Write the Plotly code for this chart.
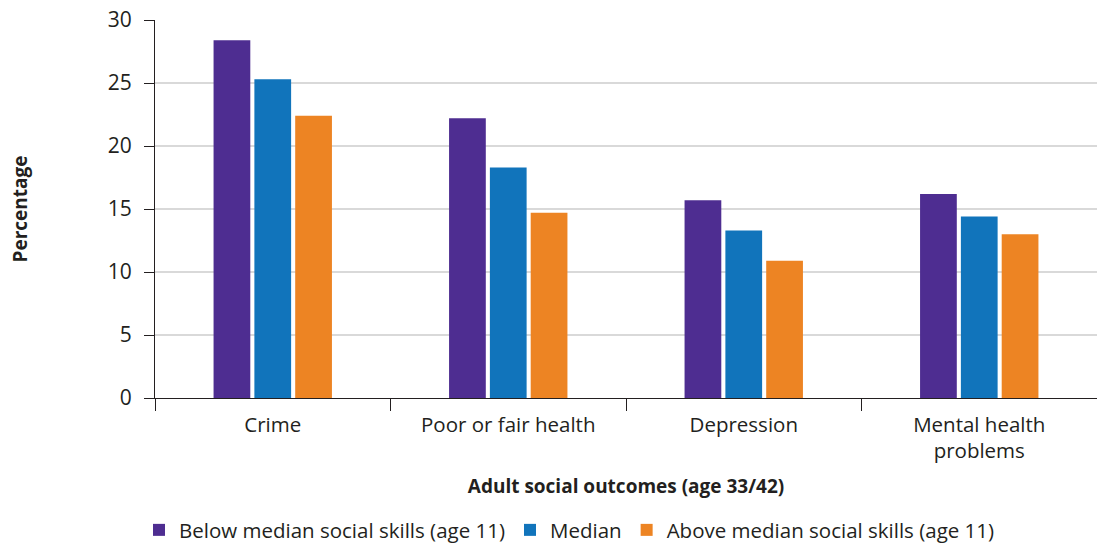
import plotly.graph_objects as go

categories = ["Crime", "Poor or fair health", "Depression", "Mental health<br>problems"]
series_names = [
    "Below median social skills (age 11)",
    "Median",
    "Above median social skills (age 11)",
]
below_median = [28.4, 22.2, 15.7, 16.2]
median = [25.3, 18.3, 13.3, 14.4]
above_median = [22.4, 14.7, 10.9, 13.0]
colors = ["#4e2d91", "#1174bb", "#ed8423"]
y_ticks = [0, 5, 10, 15, 20, 25, 30]

FONT = "Open Sans, Lato, sans-serif"
TEXT = "#231f20"

fig = go.Figure()
for name, vals, col in zip(series_names, [below_median, median, above_median], colors):
    fig.add_trace(go.Bar(x=categories, y=vals, name=name, marker_color=col,
                         marker_line_width=0))

fig.update_layout(
    width=1097, height=547,
    margin=dict(l=155, r=0, t=20, b=149),
    plot_bgcolor="white", paper_bgcolor="white",
    barmode="group", bargap=0.48, bargroupgap=0.1,
    font=dict(family=FONT, size=20, color=TEXT),
    showlegend=True,
    legend=dict(orientation="h", x=0.44, xanchor="center",
                yref="container", y=0.031, yanchor="middle",
                font=dict(size=20.5, color=TEXT), itemwidth=30, traceorder="normal",
                tracegroupgap=0, itemclick=False),
)
fig.update_xaxes(
    automargin=False,
    showline=True, linecolor="#231f20", linewidth=1.3,
    ticks="outside", tickson="boundaries", ticklen=12, tickcolor="#231f20", tickwidth=1.3,
    tickfont=dict(size=20.5, color=TEXT), ticklabelstandoff=8,
    title=dict(text="<b>Adult social outcomes (age 33/42)</b>", font=dict(size=19, color=TEXT),
               standoff=16),
)
fig.update_yaxes(
    automargin=False,
    range=[0, 30], tickvals=y_ticks, showgrid=True, gridcolor="#d9d9d9", gridwidth=1.5,
    showline=True, linecolor="#231f20", linewidth=1.3,
    ticks="outside", ticklen=10, tickcolor="#231f20", tickwidth=1.3,
    tickfont=dict(size=21, color=TEXT), zeroline=False, ticklabelstandoff=8,
    title=dict(text="<b>Percentage</b>", font=dict(size=19, color=TEXT), standoff=74),
)

fig.write_html("out.html")
